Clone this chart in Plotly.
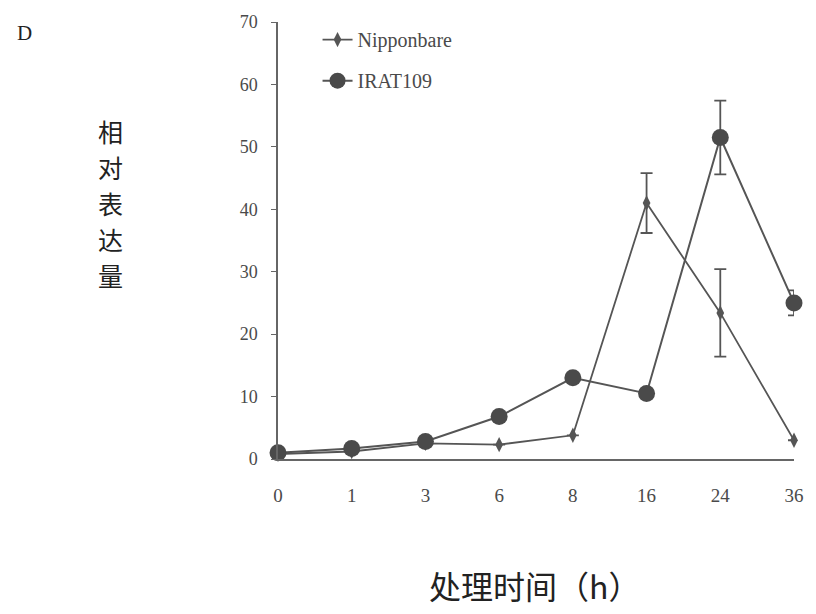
import plotly.graph_objects as go

# Relative expression over treatment time
time_labels = ["0", "1", "3", "6", "8", "16", "24", "36"]
nipponbare = [0.8, 1.2, 2.5, 2.3, 3.8, 41.0, 23.4, 3.0]
nipponbare_err = [0, 0, 0, 0, 0, 4.8, 7.0, 0]
irat109 = [1.0, 1.7, 2.8, 6.8, 13.0, 10.5, 51.5, 25.0]
irat109_err = [0, 0, 0, 0, 0, 0, 5.9, 2.0]
y_ticks = [0, 10, 20, 30, 40, 50, 60, 70]
y_title = "相对表达量"
x_title = "处理时间（h）"

W, H = 816, 614
L, R, T, B = 278, 16, 12, 155
PW = W - L - R
PH = H - T - B

def px(x):
    return (x - L) / PW

def py(y):
    return 1 - (y - T) / PH

serif = "Liberation Serif, Times New Roman, serif"
cjk = "Noto Sans CJK SC, Noto Sans CJK JP, sans-serif"
ink = "#4a4a4a"

fig = go.Figure()

fig.add_trace(go.Scatter(
    x=time_labels, y=nipponbare, name="Nipponbare", mode="lines+markers",
    line=dict(color="#555555", width=1.8),
    marker=dict(symbol="diamond-tall", size=11, color="#555555"),
    error_y=dict(type="data", array=nipponbare_err, visible=True,
                 color="#555555", thickness=1.8, width=6),
    cliponaxis=False, legend="legend",
))
fig.add_trace(go.Scatter(
    x=time_labels, y=irat109, name="IRAT109", mode="lines+markers",
    line=dict(color="#555555", width=2),
    marker=dict(symbol="circle", size=17, color="#4a4a4a"),
    error_y=dict(type="data", array=irat109_err, visible=True,
                 color="#555555", thickness=1.8, width=6),
    cliponaxis=False, legend="legend2",
))

legend_style = dict(xanchor="left", yanchor="middle", bgcolor="rgba(0,0,0,0)",
                    font=dict(family=serif, size=20, color=ink), itemwidth=30)

fig.update_layout(
    width=W, height=H,
    margin=dict(l=L, r=R, t=T, b=B),
    plot_bgcolor="white", paper_bgcolor="white",
    font=dict(family=serif, size=18, color=ink),
    xaxis=dict(type="category", range=[0, 7], showgrid=False, zeroline=False,
               showline=True, linecolor="#666666", linewidth=1.5,
               ticks="", ticklabelstandoff=18,
               tickfont=dict(family=serif, size=19, color=ink)),
    yaxis=dict(range=[0, 70], tickvals=y_ticks, showgrid=False, zeroline=False,
               showline=True, linecolor="#666666", linewidth=1.5,
               ticks="outside", ticklen=5, tickcolor="#666666",
               ticklabelstandoff=10,
               tickfont=dict(family=serif, size=18, color=ink)),
    legend=dict(x=px(318), y=py(30), **legend_style),
    legend2=dict(x=px(318), y=py(72), **legend_style),
    showlegend=True,
)

fig.add_annotation(text="D", xref="paper", yref="paper", x=px(12), y=py(23),
                   xanchor="left", yanchor="middle", showarrow=False,
                   font=dict(family=serif, size=21, color="#222222"))
for i, ch in enumerate(y_title):
    fig.add_annotation(text=ch, xref="paper", yref="paper",
                       x=px(109), y=py(123 + 37 * i), xanchor="center", yanchor="middle",
                       showarrow=False,
                       font=dict(family=cjk, size=25, color="#222222"))
fig.add_annotation(text=x_title, xref="paper", yref="paper",
                   x=px(537), y=py(588), xanchor="center", yanchor="middle",
                   showarrow=False,
                   font=dict(family=cjk, size=32, color="#222222"))

fig.write_html("out.html")
